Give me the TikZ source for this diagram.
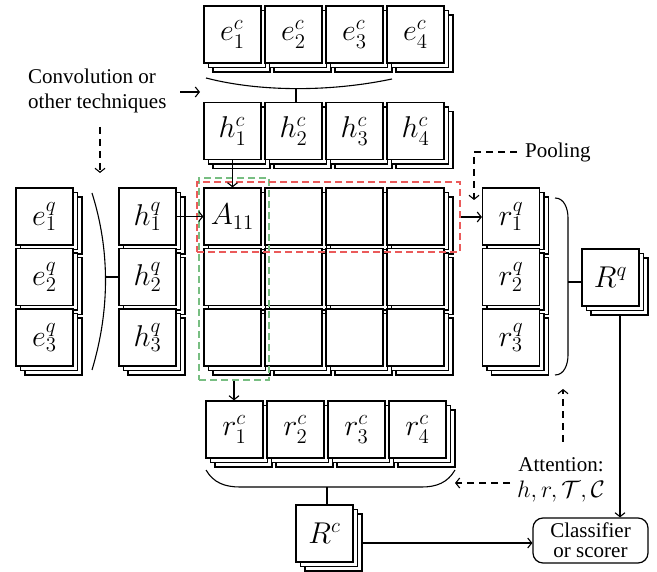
\documentclass[tikz,border=0pt]{standalone}
\usepackage{graphicx}
\usepackage{fontspec}
\setmainfont{Liberation Serif}
\usetikzlibrary{shadows,arrows.meta,calc}
\newcommand{\bx}[1]{\scalebox{1.45}{$#1$}}
\begin{document}
\begin{tikzpicture}[x=1pt,y=-1pt,
  stk/.style={draw, fill=white, line width=1.2pt, minimum size=57pt, inner sep=0pt,
    font=\fontsize{20.74}{24}\selectfont,
    double copy shadow={shadow xshift=4.5pt, shadow yshift=-4.5pt, draw, fill=white, line width=1.2pt}},
  lbl/.style={font=\fontsize{21}{25.5}\selectfont, align=center, inner sep=0pt},
  conn/.style={line width=1.1pt, -{Straight Barb[length=4pt,width=10pt]}},
  dconn/.style={conn, dash pattern=on 7pt off 5pt},
  brace/.style={line width=1.1pt},
  hl/.style={line width=1.1pt, dash pattern=on 7pt off 4pt}]
\useasboundingbox (0,0) rectangle (657,572);
% top e^c row
\node[stk] (e1c) at (232.5,34.5) {\bx{e_1^c}};
\node[stk] (e2c) at (293.5,34.5) {\bx{e_2^c}};
\node[stk] (e3c) at (354.5,34.5) {\bx{e_3^c}};
\node[stk] (e4c) at (415.5,34.5) {\bx{e_4^c}};
% h^c row
\node[stk] (h1c) at (232.5,131) {\bx{h_1^c}};
\node[stk] (h2c) at (293.5,131) {\bx{h_2^c}};
\node[stk] (h3c) at (354.5,131) {\bx{h_3^c}};
\node[stk] (h4c) at (415.5,131) {\bx{h_4^c}};
% e^q column
\node[stk] (e1q) at (44.5,216.5) {\bx{e_1^q}};
\node[stk] (e2q) at (44.5,277) {\bx{e_2^q}};
\node[stk] (e3q) at (44.5,337.5) {\bx{e_3^q}};
% h^q column
\node[stk] (h1q) at (147.5,216.5) {\bx{h_1^q}};
\node[stk] (h2q) at (147.5,277) {\bx{h_2^q}};
\node[stk] (h3q) at (147.5,337.5) {\bx{h_3^q}};
% grid
\node[stk] (a11) at (232.5,216.5) {\bx{A_{11}}};
\node[stk] (a12) at (293.5,216.5) {};
\node[stk] (a13) at (354.5,216.5) {};
\node[stk] (a14) at (415.5,216.5) {};
\node[stk] (a21) at (232.5,277) {};
\node[stk] (a22) at (293.5,277) {};
\node[stk] (a23) at (354.5,277) {};
\node[stk] (a24) at (415.5,277) {};
\node[stk] (a31) at (232.5,337.5) {};
\node[stk] (a32) at (293.5,337.5) {};
\node[stk] (a33) at (354.5,337.5) {};
\node[stk] (a34) at (415.5,337.5) {};
% r^q column
\node[stk] (r1q) at (511,216.5) {\bx{r_1^q}};
\node[stk] (r2q) at (511,277) {\bx{r_2^q}};
\node[stk] (r3q) at (511,337.5) {\bx{r_3^q}};
\node[stk] (Rq) at (610.5,277.5) {\bx{R^q}};
% r^c row
\node[stk] (r1c) at (234.5,429.5) {\bx{r_1^c}};
\node[stk] (r2c) at (295.5,429.5) {\bx{r_2^c}};
\node[stk] (r3c) at (356.5,429.5) {\bx{r_3^c}};
\node[stk] (r4c) at (417.5,429.5) {\bx{r_4^c}};
\node[stk] (Rc) at (324.5,533.5) {\bx{R^c}};
% classifier
\node[draw, line width=1.2pt, rounded corners=10pt, minimum width=115pt, minimum height=45pt,
  lbl, font=\fontsize{21}{20}\selectfont] (cls) at (590.5,540.5) {Classifier\\or scorer};
% highlight rectangles
\node[hl, draw={rgb,255:red,120;green,190;blue,130}, minimum width=70pt, minimum height=202pt, inner sep=0pt] (grn) at (234,279) {};
\node[hl, draw={rgb,255:red,235;green,90;blue,90}, minimum width=263pt, minimum height=70pt, inner sep=0pt] (red) at (328.5,217) {};
% labels
\node[lbl, align=left, anchor=west] (conv) at (28,91) {Convolution or\\other techniques};
\node[lbl, anchor=west] (pool) at (525,152) {Pooling};
\node[lbl] (att) at (561,480) {Attention:\\\scalebox{1.15}{$h,r,\mathcal{T},\mathcal{C}$}};
% braces
\coordinate (tbl) at (206,78);
\coordinate (tbr) at (392,79);
\coordinate (tbm) at (296,89);
\draw[brace] (tbl) .. controls (260,92) and (330,92) .. (tbr);
\draw[brace] (tbm) -- (tbm |- h2c.north);
\coordinate (lbt) at (92,193);
\coordinate (lbb) at (92,370);
\coordinate (lbm) at (105,277);
\draw[brace] (lbt) .. controls (110,250) and (110,310) .. (lbb);
\draw[brace] (lbm) -- (lbm -| h2q.west);
\coordinate (rbt) at (555,198);
\coordinate (rbb) at (555,375);
\coordinate (rbm) at (568,282);
\draw[brace] (rbt) to[out=0,in=90] (568,218) -- (568,355) to[out=-90,in=0] (rbb);
\draw[brace] (rbm) -- (rbm -| Rq.west);
\coordinate (bbl) at (206,470);
\coordinate (bbr) at (455,470);
\coordinate (bbm) at (327,487);
\draw[brace] (bbl) to[out=-60,in=180] (240,487) -- (422,487) to[out=0,in=-120] (bbr);
\draw[brace] (bbm) -- (bbm |- Rc.north);
% connectors
\draw[conn] (h1c.south) -- (a11.north);
\draw[conn] (h1q.east) -- (a11.west);
\draw[conn] (grn.south) -- (grn.south |- r1c.north);
\draw[conn] (red.east) -- (red.east -| r1q.west);
\coordinate (rqo) at ($(Rq.south)+(9.5,9)$);
\draw[conn] (rqo) -- (rqo |- cls.north);
\coordinate (rco) at ($(Rc.east)+(9,9.5)$);
\draw[conn] (rco) -- (rco -| cls.west);
% annotation arrows
\coordinate (cva) at (180,92);
\draw[conn] (cva) -- ++(20,0);
\draw[dconn] (100,127) -- (100,173);
\draw[dconn] (517,152) -- (474,152) -- (474,200);
\draw[dconn] (510,483) -- (bbr |- 0,483);
\draw[dconn] (563,442) -- (563,389);
\end{tikzpicture}
\end{document}
